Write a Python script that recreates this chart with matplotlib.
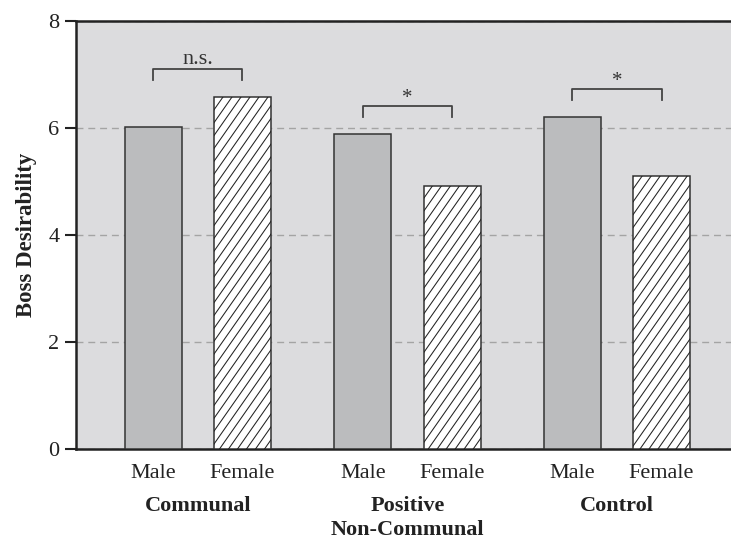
import numpy as np
import matplotlib.pyplot as plt

# --- Data
conditions = ["Communal", "Positive\nNon-Communal", "Control"]
male_vals = [6.02, 5.89, 6.21]
female_vals = [6.58, 4.92, 5.10]
sig_labels = ["n.s.", "*", "*"]
yticks = [0, 2, 4, 6, 8]

plt.rcParams['font.family'] = ['Liberation Serif', 'DejaVu Serif']

fig = plt.figure(figsize=(7.31, 5.39), dpi=100)
ax = fig.add_axes([0.104, 0.167, 0.896, 0.794])
ax.set_facecolor('#dcdcde')

x = np.arange(len(conditions))
off = 0.2125
width = 0.272
edge = '#333333'

ax.set_xlim(-0.582, 2.544)
ax.set_ylim(0, 8)

ax.bar(x - off, male_vals, width, color='#bbbcbe', edgecolor=edge, linewidth=1.1, zorder=3)
fem = ax.bar(x + off, female_vals, width, color='white', edgecolor=edge, linewidth=1.1, zorder=3)

# --- steep hatch lines, clipped to each female bar
px_x = ax.get_position().width * fig.get_figwidth() * fig.dpi / (2.544 + 0.582)
px_y = ax.get_position().height * fig.get_figheight() * fig.dpi / 8
slope = np.tan(np.radians(55)) * px_x / px_y   # data units
step = 9.0 / px_x
for rect in fem:
    x0, w, h = rect.get_x(), rect.get_width(), rect.get_height()
    starts = np.arange(x0 - h / slope, x0 + w, step)
    for s in starts:
        ln, = ax.plot([s, s + h / slope], [0, h], color='#222222', lw=0.75, zorder=3.5)
        ln.set_clip_path(rect)

# --- significance brackets
for i, lab in enumerate(sig_labels):
    top = max(male_vals[i], female_vals[i]) + 0.52
    xa, xb = x[i] - off, x[i] + off
    ax.plot([xa, xa, xb, xb], [top - 0.2, top, top, top - 0.2],
            color='#444444', lw=1.3, zorder=4)
    if lab == "*":
        ax.text(x[i], top + 0.06, lab, ha='center', va='baseline', fontsize=15, color='#333333')
    else:
        ax.text(x[i], top + 0.1, lab, ha='center', va='baseline', fontsize=16, color='#333333')

ax.set_yticks(yticks)
ax.set_yticklabels([str(t) for t in yticks], fontsize=16, color='#222222')
ax.yaxis.grid(True, linestyle=(0, (5, 3.5)), color='#a4a4a4', lw=1.0, zorder=1)
ax.tick_params(axis='y', direction='out', length=8, width=1.5, color='#222222', pad=4)

ax.set_xticks(list(x - off) + list(x + off))
ax.set_xticklabels(["Male"] * 3 + ["Female"] * 3, fontsize=16, color='#222222')
ax.tick_params(axis='x', length=0, pad=11)

for i, c in enumerate(conditions):
    ax.text(x[i], -0.87, c, ha='center', va='top', fontsize=16, fontweight='bold',
            color='#222222', linespacing=1.3)

ax.set_ylabel("Boss Desirability", fontsize=16.5, fontweight='bold', color='#222222', labelpad=8)

for s in ['left', 'bottom', 'top']:
    ax.spines[s].set_linewidth(1.8)
    ax.spines[s].set_color('#222222')
ax.spines['right'].set_visible(False)

fig.savefig("out.png", dpi=100)
